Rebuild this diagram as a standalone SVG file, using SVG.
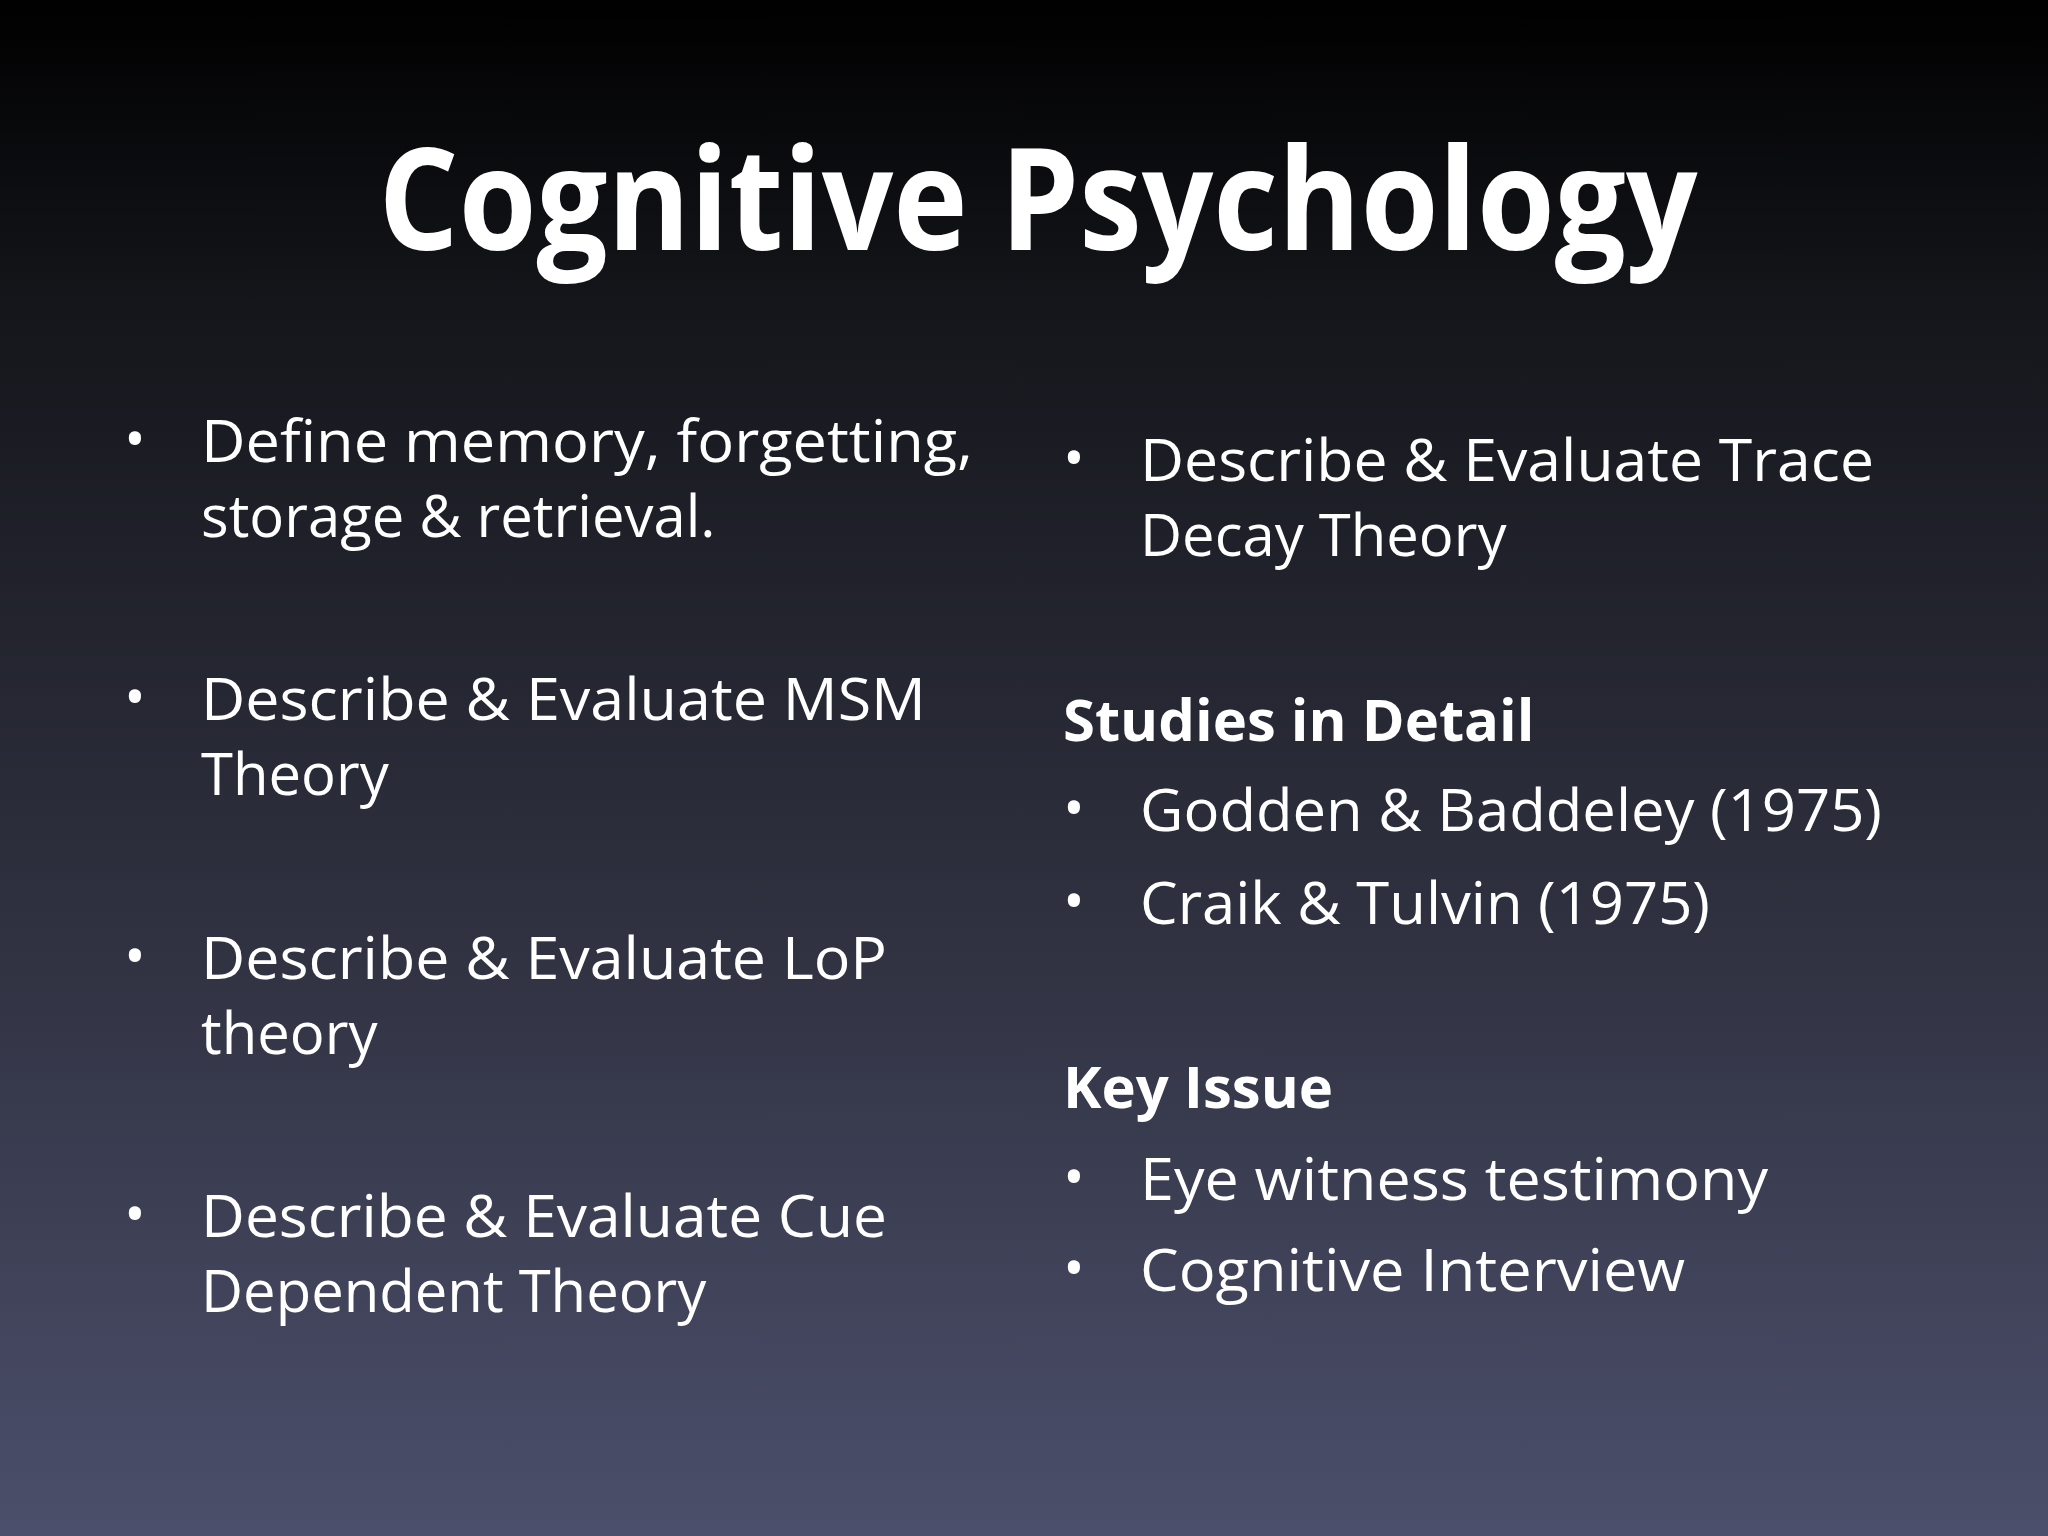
<svg xmlns="http://www.w3.org/2000/svg" width="2048" height="1536" viewBox="0 0 2048 1536">
<defs>
<linearGradient id="bg" x1="0" y1="0" x2="0" y2="1">
<stop offset="0" stop-color="#000000"/>
<stop offset="0.2" stop-color="#15161b"/>
<stop offset="0.6" stop-color="#2f3140"/>
<stop offset="1" stop-color="#4c4f6b"/>
</linearGradient>
<style>
text{fill:#ffffff;font-family:"Open Sans","Liberation Sans",sans-serif;}
.t{font-size:142px;font-weight:bold;}
.b{font-size:58px;}
.h{font-size:58px;font-weight:bold;}
</style>
</defs>
<rect width="2048" height="1536" fill="url(#bg)"/>
<text class="t" x="1038" y="250" text-anchor="middle" textLength="1319" lengthAdjust="spacingAndGlyphs">Cognitive Psychology</text>
<g class="b">
<text class="b" x="124" y="460">•</text>
<text class="b" x="201" y="462" textLength="772" lengthAdjust="spacingAndGlyphs">Define memory, forgetting,</text>
<text class="b" x="201" y="537">storage &amp; retrieval.</text>
<text class="b" x="124" y="718">•</text>
<text class="b" x="201" y="720" textLength="725" lengthAdjust="spacingAndGlyphs">Describe &amp; Evaluate MSM</text>
<text class="b" x="201" y="795">Theory</text>
<text class="b" x="124" y="977">•</text>
<text class="b" x="201" y="979" textLength="686" lengthAdjust="spacingAndGlyphs">Describe &amp; Evaluate LoP</text>
<text class="b" x="201" y="1054">theory</text>
<text class="b" x="124" y="1235">•</text>
<text class="b" x="201" y="1237" textLength="686" lengthAdjust="spacingAndGlyphs">Describe &amp; Evaluate Cue</text>
<text class="b" x="201" y="1312">Dependent Theory</text>
<text class="b" x="1063" y="479">•</text>
<text class="b" x="1140" y="481" textLength="734" lengthAdjust="spacingAndGlyphs">Describe &amp; Evaluate Trace</text>
<text class="b" x="1140" y="556">Decay Theory</text>
<text class="h" x="1063" y="741">Studies in Detail</text>
<text class="b" x="1063" y="829">•</text>
<text class="b" x="1140" y="831" textLength="742" lengthAdjust="spacingAndGlyphs">Godden &amp; Baddeley (1975)</text>
<text class="b" x="1063" y="922">•</text>
<text class="b" x="1140" y="924" textLength="570" lengthAdjust="spacingAndGlyphs">Craik &amp; Tulvin (1975)</text>
<text class="h" x="1063" y="1108">Key Issue</text>
<text class="b" x="1063" y="1198">•</text>
<text class="b" x="1140" y="1200" textLength="628" lengthAdjust="spacingAndGlyphs">Eye witness testimony</text>
<text class="b" x="1063" y="1289">•</text>
<text class="b" x="1140" y="1291" textLength="545" lengthAdjust="spacingAndGlyphs">Cognitive Interview</text>
</g>
</svg>
